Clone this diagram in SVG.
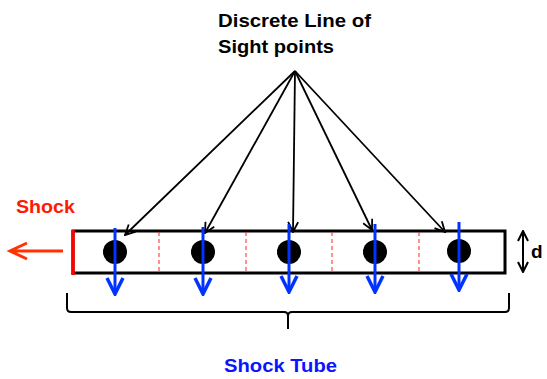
<svg xmlns="http://www.w3.org/2000/svg" width="547" height="379" viewBox="0 0 547 379">
<style>
.lbl{font-family:"Liberation Sans",Arial,sans-serif;font-weight:bold;font-size:19px}
.los{stroke:#000;stroke-width:1.8;fill:none}
.blue{stroke:#0033ff;stroke-width:3;fill:none}
.dash{stroke:#ff2222;stroke-width:1;stroke-dasharray:4,3}
.pt{fill:#000}
</style>
<defs>
<marker id="ah" viewBox="0 0 12 12" refX="11" refY="6" markerWidth="12" markerHeight="12" markerUnits="userSpaceOnUse" orient="auto">
<path d="M1,1 L11,6 L1,11" fill="none" stroke="#000" stroke-width="1.8"/>
</marker>
<marker id="bh" viewBox="0 0 20 20" refX="18" refY="10" markerWidth="20" markerHeight="20" markerUnits="userSpaceOnUse" orient="auto">
<path d="M2,2 L18,10 L2,18" fill="none" stroke="#0033ff" stroke-width="3.5" stroke-linejoin="miter"/>
</marker>
<marker id="dh" viewBox="0 0 12 12" refX="11" refY="6" markerWidth="12" markerHeight="12" markerUnits="userSpaceOnUse" orient="auto-start-reverse">
<path d="M1,1 L11,6 L1,11" fill="none" stroke="#000" stroke-width="2"/>
</marker>
</defs>
<g id="title">
<text class="lbl" x="218" y="27" textLength="153" lengthAdjust="spacingAndGlyphs">Discrete Line of</text>
<text class="lbl" x="218" y="53" textLength="116" lengthAdjust="spacingAndGlyphs">Sight points</text>
</g>
<g id="tube">
<rect x="73" y="231" width="432" height="42" fill="#fff" stroke="#000" stroke-width="3"/>
<line x1="73" y1="230" x2="73" y2="275" stroke="#ff0000" stroke-width="3.5"/>
<line class="dash" x1="159" y1="232" x2="159" y2="272"/>
<line class="dash" x1="246" y1="232" x2="246" y2="272"/>
<line class="dash" x1="332" y1="232" x2="332" y2="272"/>
<line class="dash" x1="419" y1="232" x2="419" y2="272"/>
</g>
<g id="points">
<circle class="pt" cx="115" cy="252" r="12"/>
<circle class="pt" cx="203" cy="252" r="12"/>
<circle class="pt" cx="289" cy="252" r="12"/>
<circle class="pt" cx="375" cy="252" r="12"/>
<circle class="pt" cx="459" cy="251" r="12"/>
</g>
<g id="connectors">
<line class="los" x1="295" y1="71" x2="125" y2="235" marker-end="url(#ah)"/>
<line class="los" x1="295" y1="71" x2="205" y2="233" marker-end="url(#ah)"/>
<line class="los" x1="295" y1="71" x2="293" y2="232" marker-end="url(#ah)"/>
<line class="los" x1="295" y1="71" x2="372" y2="230" marker-end="url(#ah)"/>
<line class="los" x1="295" y1="71" x2="445" y2="232" marker-end="url(#ah)"/>
<line class="blue" x1="115" y1="228" x2="115" y2="294" marker-end="url(#bh)"/>
<line class="blue" x1="203" y1="227" x2="203" y2="294" marker-end="url(#bh)"/>
<line class="blue" x1="289" y1="224" x2="289" y2="292" marker-end="url(#bh)"/>
<line class="blue" x1="375" y1="224" x2="375" y2="292" marker-end="url(#bh)"/>
<line class="blue" x1="459" y1="222" x2="459" y2="290" marker-end="url(#bh)"/>
<path d="M63,251 L10,251 M27,243 L10,251 L27,259" fill="none" stroke="#ff3300" stroke-width="3"/>
<line x1="523" y1="231" x2="523" y2="272" stroke="#000" stroke-width="2" marker-start="url(#dh)" marker-end="url(#dh)"/>
</g>
<g id="shock">
<text class="lbl" x="16" y="213" fill="#ff1a00" textLength="59" lengthAdjust="spacingAndGlyphs">Shock</text>
</g>
<g id="d-label">
<text class="lbl" x="531" y="258" fill="#000">d</text>
</g>
<g id="brace">
<path d="M67,293 L67,308 Q67,312 71,312 L284,312 Q288,312 288,316 L288,329 M288,316 Q288,312 292,312 L505,312 Q509,312 509,308 L509,293" fill="none" stroke="#000" stroke-width="2"/>
</g>
<g id="tube-label">
<text class="lbl" x="224" y="372" fill="#0a14ff" textLength="113" lengthAdjust="spacingAndGlyphs">Shock Tube</text>
</g>
</svg>
